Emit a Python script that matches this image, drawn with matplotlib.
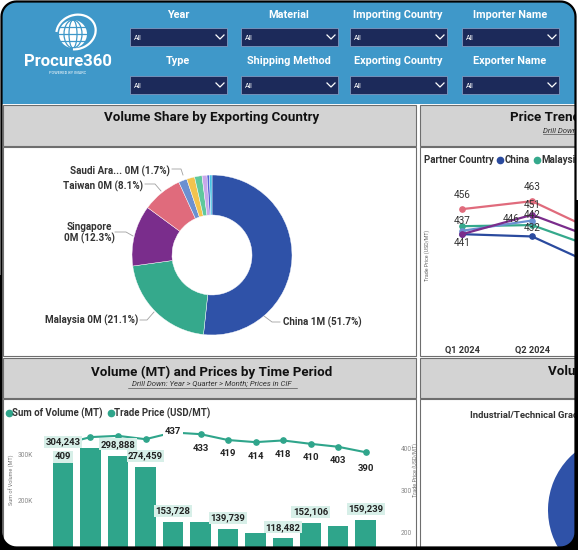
import numpy as np
import matplotlib
matplotlib.use("Agg")
import matplotlib.pyplot as plt
from matplotlib.patches import Rectangle, Circle, Ellipse, PathPatch, Arc
from matplotlib.path import Path

plt.rcParams['font.family'] = ['Roboto', 'DejaVu Sans']

# ---- data -------------------------------------------------------------
filter_row1 = ['Year', 'Material', 'Importing Country', 'Importer Name']
filter_row2 = ['Type', 'Shipping Method', 'Exporting Country', 'Exporter Name']

exp_countries = ['China', 'Malaysia', 'Singapore', 'Taiwan', 'Saudi Ara...',
                 'Other 1', 'Other 2', 'Other 3', 'Other 4', 'Other 5']
exp_volume = ['1M', '0M', '0M', '0M', '0M', '0M', '0M', '0M', '0M', '0M']
exp_share = [51.7, 21.1, 12.3, 8.1, 1.7, 1.6, 1.5, 1.0, 0.5, 0.5]
exp_colors = ['#2f52a8', '#35a98c', '#7a2d8c', '#e06b7c', '#6b90d1',
              '#f2c34e', '#5fc89d', '#c8a8ea', '#5262d6', '#45c2e3']

quarters = ['Q1 2024', 'Q2 2024', 'Q3 2024']
partners = ['China', 'Malaysia', 'Singapore', 'Taiwan', 'Saudi Arabia']
partner_colors = ['#2a4a9e', '#35a98c', '#7a2d8c', '#e06b7c', '#6b90d1']
price_china = [434, 432, 404]
price_malaysia = [441, 442, 420]
price_singapore = [434, 451, 428]
price_taiwan = [456, 463, 434]
price_saudi = [437, 446, np.nan]

period_volume = [304243, 315200, 298888, 274459, 153728, 155100,
                 139739, 131000, 118482, 152106, 146300, 159239]
period_price = [409, 426, 429, 421, 437, 433, 419, 414, 418, 410, 403, 390]

type_names = ['Industrial/Technical Grade', 'Other']
type_share = [93.0, 7.0]

# ---- colours ----------------------------------------------------------
HEADER = '#3f98c9'
NAVY = '#1c2a5a'
BAND = '#d3d3d3'
EDGE = '#6e6e6e'
TEAL = '#2fa58b'
TEAL_BOX = '#d7efe8'

W, H = 578, 550
fig = plt.figure(figsize=(W / 100, H / 100), dpi=100)
fig.patch.set_facecolor('white')


def px_rect(x0, y0, x1, y1):
    # pixel box (top-left origin) -> figure fraction
    return [x0 / W, 1 - y1 / H, (x1 - x0) / W, (y1 - y0) / H]


bg = fig.add_axes([0, 0, 1, 1])
bg.set_xlim(0, W)
bg.set_ylim(H, 0)
bg.axis('off')

# ---- header -----------------------------------------------------------
bg.add_patch(Rectangle((0, 0), W, 104, facecolor=HEADER, edgecolor='none'))

# logo
bg.add_patch(Circle((73, 34), 14, facecolor='white', edgecolor='none'))
for wdt in [8, 18]:
    bg.add_patch(Ellipse((73, 34), wdt, 28, facecolor='none', edgecolor=HEADER, lw=0.9))
for yy in [27, 34, 41]:
    bg.plot([59, 87], [yy, yy], color=HEADER, lw=0.9)
bg.add_patch(Arc((76, 32), 40, 34, angle=-20, theta1=200, theta2=120,
                 color='white', lw=1.6))
bg.text(68, 62, 'Procure360', color='white', fontsize=12, fontweight='bold',
        ha='center', va='center')
bg.text(68, 73, 'POWERED BY IMARC', color='white', fontsize=2.8,
        ha='center', va='center')

col_x = [130, 241, 350, 462]
for row, (labels, ly, by) in enumerate([(filter_row1, 15, 28), (filter_row2, 61, 76)]):
    for lab, x0 in zip(labels, col_x):
        bg.text(x0 + 48, ly, lab, color='white', fontsize=7.8, fontweight='bold',
                ha='center', va='center')
        bg.add_patch(Rectangle((x0, by), 97, 18, facecolor=NAVY,
                               edgecolor='#7f98bf', lw=0.6))
        bg.text(x0 + 4, by + 10, 'All', color='white', fontsize=5,
                ha='left', va='center')
        bg.plot([x0 + 86, x0 + 90, x0 + 94], [by + 7, by + 11, by + 7],
                color='white', lw=0.9)

# ---- panels -----------------------------------------------------------
for (x0, x1) in [(3, 416), (420, 580)]:
    bg.add_patch(Rectangle((x0, 105), x1 - x0, 41, facecolor=BAND, edgecolor=EDGE, lw=0.8))
    bg.add_patch(Rectangle((x0, 147), x1 - x0, 209, facecolor='white', edgecolor=EDGE, lw=0.8))
    bg.add_patch(Rectangle((x0, 358), x1 - x0, 40, facecolor=BAND, edgecolor=EDGE, lw=0.8))
    bg.add_patch(Rectangle((x0, 399), x1 - x0, 160, facecolor='white', edgecolor=EDGE, lw=0.8))

TITLE = 9.6
bg.text(212, 118, 'Volume Share by Exporting Country', fontsize=TITLE, fontweight='bold',
        ha='center', va='center', color='#111111')
bg.text(510, 118, 'Price Trend by Partner Country', fontsize=TITLE, fontweight='bold',
        ha='left', va='center', color='#111111')
bg.text(543, 130, 'Drill Down: Year > Quarter', fontsize=5.6, fontstyle='italic',
        ha='left', va='center', color='#333333')
bg.plot([543, 600], [133.5, 133.5], color='#333333', lw=0.4)

bg.text(212, 372, 'Volume (MT) and Prices by Time Period', fontsize=TITLE, fontweight='bold',
        ha='center', va='center', color='#111111')
bg.text(212, 384, 'Drill Down: Year > Quarter > Month; Prices in CIF', fontsize=5.6,
        fontstyle='italic', ha='center', va='center', color='#333333')
bg.plot([128, 297], [388, 388], color='#333333', lw=0.4)
bg.text(548, 372, 'Volume Share by Type', fontsize=TITLE, fontweight='bold',
        ha='left', va='center', color='#111111')
bg.text(470, 415, 'Industrial/Technical Grade', fontsize=6.8, fontweight='bold',
        ha='left', va='center', color='#333333')

renderer = fig.canvas.get_renderer()


def inline_legend(x, y, title, names, colors, size):
    # title followed by dot + name items, laid out left to right
    inv = bg.transData.inverted()
    if title:
        t = bg.text(x, y, title, fontsize=size, fontweight='bold', ha='left',
                    va='center', color='#333333')
        bb = t.get_window_extent(renderer)
        x = inv.transform((bb.x1, bb.y0))[0] + 4
    for nm, c in zip(names, colors):
        bg.plot([x + 2.5], [y], 'o', color=c, ms=4.5)
        t = bg.text(x + 6.5, y, nm, fontsize=size, ha='left', va='center',
                    color='#333333', fontweight='bold')
        bb = t.get_window_extent(renderer)
        x = inv.transform((bb.x1, bb.y0))[0] + 5


inline_legend(424, 160, 'Partner Country', partners, partner_colors, 7)
inline_legend(6, 413, '', ['Sum of Volume (MT)', 'Trade Price (USD/MT)'], [TEAL, TEAL], 6.9)

# ---- donut ------------------------------------------------------------
ax_d = fig.add_axes(px_rect(132, 175, 292, 335))
ax_d.pie(exp_share, colors=exp_colors, startangle=90, counterclock=False,
         wedgeprops=dict(width=0.5, edgecolor='white', linewidth=0.3))
ax_d.set_xlim(-1, 1)
ax_d.set_ylim(-1, 1)
ax_d.set_aspect('equal')
ax_d.axis('off')

label_sep = [' ', ' ', '\n', ' ', ' ']
label_pos = [(283, 322, 'left'), (138, 320, 'right'), (89, 233, 'center'),
             (143, 186, 'right'), (170, 171, 'right')]
leaders = [[(264, 316), (272, 322), (280, 322)],
           [(154, 312), (147, 320), (140, 320)],
           [(115, 232), (126, 232), (133, 236)],
           [(145, 184), (155, 184), (161, 191)],
           [(172, 169), (181, 169), (183, 175)]]
for i in range(5):
    txt = '{}{}{} ({}%)'.format(exp_countries[i], label_sep[i], exp_volume[i], exp_share[i])
    x, y, ha = label_pos[i]
    bg.text(x, y, txt, fontsize=7.1, ha=ha, va='center', color='#333333',
            fontweight='bold', multialignment='center', linespacing=1.1)
    xs, ys = zip(*leaders[i])
    bg.plot(xs, ys, color='#a0a0a0', lw=0.6)

# ---- price trend lines -----------------------------------------------
ax_l = fig.add_axes(px_rect(432, 175, 650, 340))
ax_l.patch.set_alpha(0)
series = [price_china, price_malaysia, price_singapore, price_taiwan, price_saudi]
draw_order = [0, 1, 4, 3, 2]
for k in draw_order:
    ax_l.plot(range(len(quarters)), series[k], color=partner_colors[k], lw=1.6,
              marker='o', ms=3.8)
ax_l.set_xlim(-0.43, 2.686)
ax_l.set_ylim(341, 486)
ax_l.set_xticks(range(len(quarters)))
ax_l.set_xticklabels(quarters, fontsize=6.6, fontweight='bold', color='#333333')
ax_l.tick_params(axis='x', length=0, pad=4)
ax_l.set_yticks([])
for s in ax_l.spines.values():
    s.set_visible(False)
# labelled points: (series, quarter, offset in points)
line_labels = [(3, 0, (0, 10)), (3, 1, (0, 10)), (4, 0, (0, 7)), (4, 1, (-15, 1)),
               (2, 1, (0, 7)), (1, 0, (0, -12)), (1, 1, (0, 7)), (0, 1, (0, 6))]
for k, q, off in line_labels:
    ax_l.annotate('{:.0f}'.format(series[k][q]), (q, series[k][q]), xytext=off,
                  textcoords='offset points', ha='center', va='center',
                  fontsize=7.2, color='#333333')
bg.text(427, 255, 'Trade Price (USD/MT)', fontsize=3.8, rotation=90,
        ha='center', va='center', color='#666666')

# ---- volume bars + price line ----------------------------------------
ax_b = fig.add_axes(px_rect(40, 425, 390, 593))
ax_b.patch.set_alpha(0)
xs = np.arange(len(period_volume))
ax_b.bar(xs, period_volume, width=0.74, color=TEAL)
ax_b.set_xlim(-0.836, 11.89)
ax_b.set_ylim(0, 365217)
ax_b.set_yticks([200000, 300000])
ax_b.set_yticklabels(['200K', '300K'], fontsize=4.8, color='#888888')
ax_b.tick_params(axis='y', length=0, pad=5)
ax_b.set_xticks([])
for s in ax_b.spines.values():
    s.set_visible(False)

ax_p = ax_b.twinx()
ax_p.plot(xs, period_price, color=TEAL, lw=1.5, marker='o', ms=3.8)
ax_p.set_ylim(54.8, 454.8)
ax_p.set_yticks([200, 300, 400])
ax_p.set_yticklabels(['200', '300', '400'], fontsize=4.8, color='#888888')
ax_p.tick_params(axis='y', length=0, pad=8)
for s in ax_p.spines.values():
    s.set_visible(False)

vol_labelled = [0, 2, 3, 4, 6, 8, 9, 11]
for i in vol_labelled:
    ax_p.annotate('{:,}'.format(period_volume[i]), (xs[i], period_volume[i]),
                  xycoords=ax_b.transData, xytext=(0, 8), textcoords='offset points',
                  ha='center', va='center', fontsize=6.8, fontweight='bold',
                  color='#222222', zorder=6,
                  bbox=dict(boxstyle='square,pad=0.15', facecolor=TEAL_BOX, edgecolor='none'))
price_labelled = [0, 4, 5, 6, 7, 8, 9, 10, 11]
for i in price_labelled:
    off = (0, -10)
    box = None
    if i == 0:
        off = (0, -9)
        box = dict(boxstyle='square,pad=0.15', facecolor=TEAL_BOX, edgecolor='none')
    if i == 4:
        off = (0, 1)
        box = dict(boxstyle='square,pad=0.15', facecolor='white', edgecolor='none')
    if i == 11:
        off = (0, -12)
    ax_p.annotate('{}'.format(period_price[i]), (xs[i], period_price[i]),
                  xytext=off, textcoords='offset points', ha='center', va='center',
                  fontsize=6.8, fontweight='bold', color='#222222', zorder=5,
                  bbox=box)
bg.text(12, 480, 'Sum of Volume (MT)', fontsize=4, rotation=90,
        ha='center', va='center', color='#777777')
bg.text(415, 470, 'Trade Price (USD/MT)', fontsize=4, rotation=90,
        ha='center', va='center', color='#777777')

# ---- type pie (mostly off-screen) -------------------------------------
ax_t = fig.add_axes(px_rect(548, 435, 698, 585))
ax_t.pie(type_share, colors=['#2f52a8', '#35a98c'], startangle=90, counterclock=False)
ax_t.set_xlim(-1, 1)
ax_t.set_ylim(-1, 1)
ax_t.axis('off')

# ---- rounded screen frame ---------------------------------------------
top = fig.add_axes([0, 0, 1, 1], zorder=10)
top.set_xlim(0, W)
top.set_ylim(H, 0)
top.axis('off')
top.patch.set_alpha(0)

r = 15
x0, y0, x1, y1 = 1.5, 1.5, 575.5, 547.5
pts = []
for cx, cy, a0 in [(x1 - r, y0 + r, -90), (x1 - r, y1 - r, 0),
                   (x0 + r, y1 - r, 90), (x0 + r, y0 + r, 180)]:
    t = np.radians(np.linspace(a0, a0 + 90, 12))
    pts += list(zip(cx + r * np.cos(t), cy + r * np.sin(t)))
inner = np.array(pts)
outer = np.array([(-5, -5), (-5, H + 5), (W + 5, H + 5), (W + 5, -5)])
verts = np.vstack([outer, outer[:1], inner, inner[:1]])
codes = ([Path.MOVETO] + [Path.LINETO] * 3 + [Path.CLOSEPOLY] +
         [Path.MOVETO] + [Path.LINETO] * (len(inner) - 1) + [Path.CLOSEPOLY])
ring = Path(verts, codes)
for color, (cy0, cy1) in [('white', (-10, 275)), ('black', (275, H + 10))]:
    p = PathPatch(ring, facecolor=color, edgecolor='none')
    top.add_patch(p)
    clip = Rectangle((-10, cy0), W + 20, cy1 - cy0, transform=top.transData)
    p.set_clip_path(clip)
top.add_patch(PathPatch(Path(np.vstack([inner, inner[:1]])), facecolor='none',
                        edgecolor='black', lw=1.6))
top.add_patch(Rectangle((575, 200), 10, 360, facecolor='black', edgecolor='none'))
top.add_patch(Rectangle((0, 547), W, 10, facecolor='black', edgecolor='none'))

fig.savefig('out.png', dpi=100, facecolor=fig.get_facecolor())
